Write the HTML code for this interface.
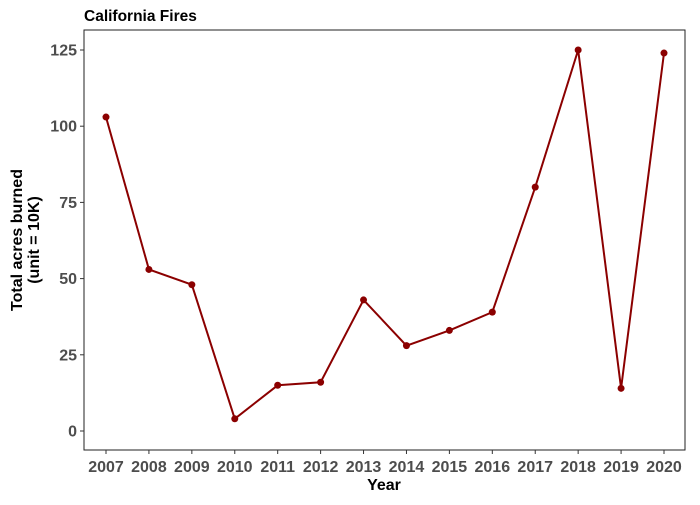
<!DOCTYPE html>
<html><head><meta charset="utf-8"><style>
body{margin:0;background:#fff;font-family:"Liberation Sans",sans-serif}
</style></head><body>
<svg id="chart" width="700" height="500" xmlns="http://www.w3.org/2000/svg">
<rect width="700" height="500" fill="#fff"/>
<text x="84" y="21" font-size="15.5" font-weight="bold" fill="#000">California Fires</text>
<rect x="84" y="30" width="601" height="420" fill="none" stroke="#222" stroke-width="1"/>
<g id="axes"></g>
<g id="marks"></g>
<text x="384" y="490" text-anchor="middle" font-size="16" font-weight="bold">Year</text>
<text transform="translate(22,240) rotate(-90)" text-anchor="middle" font-size="16" font-weight="bold"><tspan x="0" dy="0">Total acres burned</tspan><tspan x="0" dy="17">(unit = 10K)</tspan></text>
</svg>
<script>
const years=[2007,2008,2009,2010,2011,2012,2013,2014,2015,2016,2017,2018,2019,2020];
const acres=[103,53,48,4,15,16,43,28,33,39,80,125,14,124];
const yTicks=[0,25,50,75,100,125];
const NS="http://www.w3.org/2000/svg";
const x=i=>106+i*(664-106)/(years.length-1);
const y=v=>431-v*(431-50)/125;
const axes=document.getElementById('axes'),marks=document.getElementById('marks');
function mk(tag,at,parent){const e=document.createElementNS(NS,tag);for(const k in at)e.setAttribute(k,at[k]);parent.appendChild(e);return e;}
yTicks.forEach(t=>{
 const l=mk('line',{x1:80,x2:84,y1:y(t),y2:y(t),stroke:'#333'},axes);
 
 
 const tx=mk('text',{x:77,y:y(t)+5.5,'text-anchor':'end','font-size':16,'font-weight':'bold',fill:'#4d4d4d'},axes);
 tx.textContent=t;
 
 
});
years.forEach((yr,i)=>{
 const l=mk('line',{x1:x(i),x2:x(i),y1:450,y2:454,stroke:'#333'},axes);
 
 
 const tx=mk('text',{x:x(i),y:472,'text-anchor':'middle','font-size':16,'font-weight':'bold',fill:'#4d4d4d'},axes);
 tx.textContent=yr;
 
 
});
const p=mk('polyline',{points:acres.map((v,i)=>x(i)+','+y(v)).join(' '),fill:'none',stroke:'#8b0000','stroke-width':2},marks);


acres.forEach((v,i)=>{
 const c=mk('circle',{cx:x(i),cy:y(v),r:3.5,fill:'#8b0000'},marks);
 
 
});
</script>
</body></html>
